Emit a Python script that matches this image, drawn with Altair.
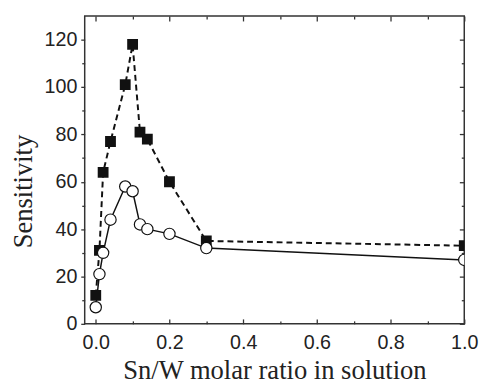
import altair as alt
import pandas as pd

# Square (filled) series
sq_x = [0.0, 0.01, 0.02, 0.04, 0.08, 0.10, 0.12, 0.14, 0.20, 0.30, 1.0]
sq_y = [12, 31, 64, 77, 101, 118, 81, 78, 60, 35, 33]
# Circle (open) series
ci_x = [0.0, 0.01, 0.02, 0.04, 0.08, 0.10, 0.12, 0.14, 0.20, 0.30, 1.0]
ci_y = [7, 21, 30, 44, 58, 56, 42, 40, 38, 32, 27]

x_major = [0.0, 0.2, 0.4, 0.6, 0.8, 1.0]
x_minor = [0.1, 0.3, 0.5, 0.7, 0.9]
y_major = [0, 20, 40, 60, 80, 100, 120]
y_minor = [10, 30, 50, 70, 90, 110]

sq = pd.DataFrame({"x": sq_x, "y": sq_y})
ci = pd.DataFrame({"x": ci_x, "y": ci_y})

W, H = 386, 313
xs = alt.Scale(domain=[-0.03, 1.0], nice=False, zero=False)
ys = alt.Scale(domain=[0, 130], nice=False, zero=False)

TICK = "#333"


def tick_axis(orient, values, size, offset=0):
    return alt.Axis(orient=orient, values=values, tickSize=size, offset=offset,
                    grid=False, domain=False, labels=False, title=None,
                    tickColor=TICK, tickWidth=1.3)


x_label_axis = alt.Axis(
    orient="bottom", values=x_major, format=".1f", grid=False, domain=False,
    ticks=False, labelFont="Liberation Sans", labelFontSize=20, labelColor="#222",
    labelPadding=9, labelFlush=False, labelOverlap=False,
    title="Sn/W molar ratio in solution", titleFont="Liberation Serif",
    titleFontSize=27, titleFontWeight="normal", titleColor="#222",
    titleX=193, titleY=56, titleBaseline="alphabetic", titleAlign="center")

y_label_axis = alt.Axis(
    orient="left", values=y_major, grid=False, domain=False, ticks=True,
    tickSize=4, tickColor=TICK, tickWidth=1.3,
    labelFont="Liberation Sans", labelFontSize=20, labelColor="#222",
    labelPadding=4, labelFlush=False, labelOverlap=False,
    title="Sensitivity", titleFont="Liberation Serif", titleFontSize=27,
    titleFontWeight="normal", titleColor="#222", titleAngle=270,
    titleX=-62, titleY=178, titleBaseline="middle", titleAlign="center")

l_dash = alt.Chart(sq).mark_line(strokeDash=[6, 4], strokeWidth=2, color="#111", clip=True).encode(
    x=alt.X("x:Q", scale=xs, axis=x_label_axis),
    y=alt.Y("y:Q", scale=ys, axis=y_label_axis),
)

l_solid = alt.Chart(ci).mark_line(strokeWidth=1.5, color="#111", clip=True).encode(
    x=alt.X("x:Q", scale=xs, axis=tick_axis("top", x_major, 5, -H)),
    y=alt.Y("y:Q", scale=ys, axis=tick_axis("left", y_minor, 3)),
)

p_sq = alt.Chart(sq).mark_point(shape="square", filled=True, size=121, color="#111",
                                opacity=1, clip=True).encode(
    x=alt.X("x:Q", scale=xs, axis=tick_axis("top", x_minor, 3, -H)),
    y=alt.Y("y:Q", scale=ys, axis=tick_axis("left", y_major, 5, -W)),
)

p_ci = alt.Chart(ci).mark_point(shape="circle", filled=True, fill="white", stroke="#111",
                                strokeWidth=1.2, size=132, opacity=1, clip=True).encode(
    x=alt.X("x:Q", scale=xs, axis=tick_axis("bottom", x_major, 5, -H)),
    y=alt.Y("y:Q", scale=ys, axis=tick_axis("left", y_minor, 3, -W)),
)

p_hidden = alt.Chart(sq).mark_point(opacity=0).encode(
    x=alt.X("x:Q", scale=xs, axis=tick_axis("bottom", x_minor, 3, -H)),
    y=alt.Y("y:Q", scale=ys, axis=None),
)

chart = alt.layer(l_dash, l_solid, p_sq, p_ci, p_hidden).resolve_scale(
    x="shared", y="shared"
).resolve_axis(
    x="independent", y="independent"
).properties(
    width=W, height=H,
    padding={"left": 78, "top": 5, "right": 16, "bottom": 58},
    autosize=alt.AutoSizeParams(type="none"),
    background="white",
).configure_view(stroke="#333", strokeWidth=1.5)

chart.save("out.html", embed_options={"renderer": "svg", "actions": False})
